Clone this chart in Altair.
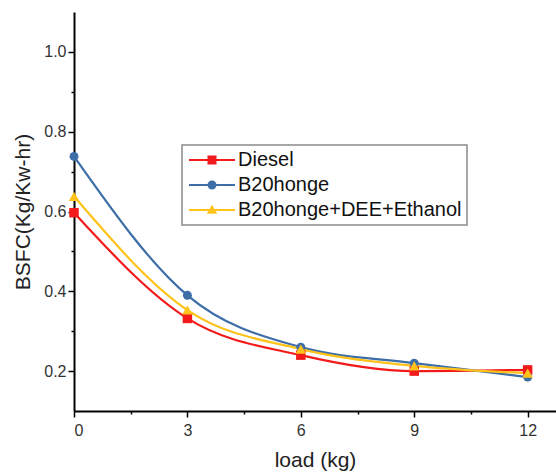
import altair as alt
import pandas as pd

# ---- data ----
loads = [0, 3, 6, 9, 12]
diesel = [0.597, 0.332, 0.240, 0.200, 0.203]
b20honge = [0.738, 0.390, 0.260, 0.220, 0.185]
b20_dee_eth = [0.638, 0.353, 0.255, 0.213, 0.195]

series_names = ["Diesel", "B20honge", "B20honge+DEE+Ethanol"]
series_colors = ["#f21a1a", "#3d6ea8", "#ffc21a"]
marker_shapes = ["square", "circle", "triangle-up"]
marker_sizes = [90, 80, 110]

x_ticks = [0, 1.5, 3, 4.5, 6, 7.5, 9, 10.5, 12]
y_ticks = [0.2, 0.3, 0.4, 0.5, 0.6, 0.7, 0.8, 0.9, 1.0]

# legend symbols: line with marker in the middle (custom symbol paths)
line_part = "M-1.6,-0.22H7.6V0.22H-1.6Z "
legend_paths = [
    line_part + "M2.1,-0.9H3.9V0.9H2.1Z",
    line_part + "M3.9,0A0.9,0.9 0 1,1 2.1,0A0.9,0.9 0 1,1 3.9,0Z",
    line_part + "M3.0,-1.05L4.05,0.75L1.95,0.75Z",
]

rows = []
for name, vals in zip(series_names, [diesel, b20honge, b20_dee_eth]):
    for xv, yv in zip(loads, vals):
        rows.append({"load": xv, "bsfc": yv, "series": name})
df = pd.DataFrame(rows)

FONT = "Liberation Sans"

x_scale = alt.Scale(domain=[0, 12.75], nice=False, zero=False)
y_scale = alt.Scale(domain=[0.1, 1.1], nice=False, zero=False)
# data-driven domain (sorted) so its hidden legend is not merged with the visible one
color_scale = alt.Scale(range=series_colors)

x_axis = alt.Axis(
    values=x_ticks,
    labelExpr="datum.value % 3 === 0 ? format(datum.value, 'd') : ''",
    tickSize={"condition": {"test": "datum.value % 3 === 0", "value": 6}, "value": 3},
    title="load (kg)",
    grid=False,
    labelPadding=5,
    titlePadding=11,
)
y_axis = alt.Axis(
    values=y_ticks,
    labelExpr="round(datum.value * 10) % 2 === 0 ? format(datum.value, '.1f') : ''",
    tickSize={"condition": {"test": "round(datum.value * 10) % 2 === 0", "value": 6}, "value": 3},
    title="BSFC(Kg/Kw-hr)",
    grid=False,
    labelPadding=2,
    titlePadding=10,
)

base = alt.Chart(df)

lines = base.mark_line(interpolate="monotone", strokeWidth=2.2).encode(
    x=alt.X("load:Q", scale=x_scale, axis=x_axis),
    y=alt.Y("bsfc:Q", scale=y_scale, axis=y_axis),
    color=alt.Color("series:N", sort=series_names, scale=color_scale, legend=None),
    order=alt.Order("load:Q"),
)

point_layers = []
for name, shp, sz in zip(series_names, marker_shapes, marker_sizes):
    point_layers.append(
        base.transform_filter(alt.datum.series == name)
        .mark_point(shape=shp, filled=True, size=sz, opacity=1)
        .encode(
            x=alt.X("load:Q", scale=x_scale),
            y=alt.Y("bsfc:Q", scale=y_scale),
            color=alt.Color("series:N", sort=series_names, scale=color_scale, legend=None),
        )
    )

legend_def = dict(
    title=None,
    orient="none",
    legendX=108,
    legendY=133,
    symbolSize=100,
    symbolOffset=0,
    labelOffset=31,
    labelFont=FONT,
    labelFontSize=20,
    labelColor="#111111",
    labelLimit=500,
    strokeColor="#8a8a8a",
    padding=5,
    rowPadding=5,
    symbolStrokeWidth=0,
    symbolOpacity=1,
)

legend_layer = base.mark_point(filled=True, opacity=0, size=100).encode(
    x=alt.X("load:Q", scale=x_scale),
    y=alt.Y("bsfc:Q", scale=y_scale),
    fill=alt.Fill(
        "series:N",
        scale=alt.Scale(domain=series_names, range=series_colors),
        legend=alt.Legend(**legend_def),
    ),
    shape=alt.Shape(
        "series:N",
        scale=alt.Scale(domain=series_names, range=legend_paths),
        legend=alt.Legend(**legend_def),
    ),
)

chart = (
    alt.layer(lines, *point_layers, legend_layer)
    .properties(
        width=482,
        height=399,
        autosize=alt.AutoSizeParams(type="none"),
        padding={"left": 74, "top": 12, "right": 0, "bottom": 64},
        background="white",
    )
    .configure_view(stroke=None)
    .configure_axis(
        domainColor="#000000",
        domainWidth=2,
        tickColor="#000000",
        tickWidth=1.5,
        labelFont=FONT,
        labelFontSize=16,
        labelColor="#333333",
        titleFont=FONT,
        titleFontSize=21,
        titleFontWeight="normal",
        titleColor="#222222",
    )
    .configure_legend(strokeWidth=1.5)
)

chart.save("out.html", embed_options={"renderer": "svg", "actions": False})
